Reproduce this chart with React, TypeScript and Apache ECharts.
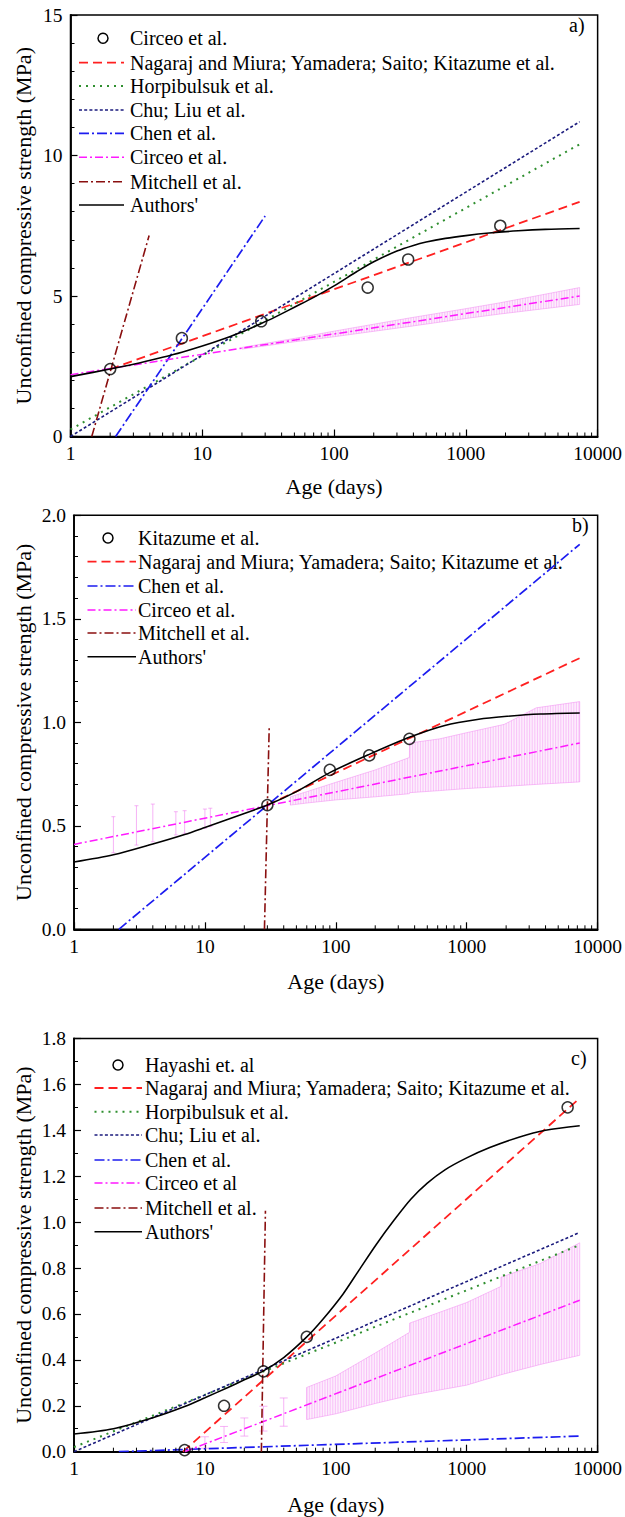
import React, { useEffect, useRef } from "react";
import * as echarts from "echarts";

const FONT = "Liberation Serif, Times New Roman, serif";

// ---------- shared axis data ----------
const xTickValues = [1, 10, 100, 1000, 10000];
const minorTickDays = [2, 3, 4, 5, 6, 7, 8, 9, 20, 30, 40, 50, 60, 70, 80, 90, 200, 300, 400, 500, 600, 700, 800, 900, 2000, 3000, 4000, 5000, 6000, 7000, 8000, 9000];
const yAxisTitle = "Unconfined compressive strength (MPa)";
const xAxisTitle = "Age (days)";

// ---------- panel a ----------
const aObsDays = [2, 7, 28, 180, 365, 1825];
const aObsUcs = [2.4, 3.5, 4.1, 5.3, 6.3, 7.5];
const aNagarajDays = [2, 7300];
const aNagarajUcs = [2.4, 8.35];
const aHorpDays = [1, 7300];
const aHorpUcs = [0.25, 10.4];
const aChuDays = [1, 7300];
const aChuUcs = [0.0, 11.2];
const aChenDays = [2.2, 30];
const aChenUcs = [0.0, 7.85];
const aCirceoDays = [1, 7300];
const aCirceoUcs = [2.2, 5.0];
const aMitchellDays = [1.45, 3.95];
const aMitchellUcs = [0.0, 7.15];
const aAuthorsDays = [1, 2, 3, 5, 7, 10, 15, 20, 28, 35, 50, 70, 100, 150, 200, 300, 400, 500, 700, 1000, 1500, 2500, 4000, 7300];
const aAuthorsUcs = [2.13, 2.4, 2.57, 2.82, 3.0, 3.22, 3.5, 3.72, 4.02, 4.23, 4.6, 4.95, 5.36, 5.88, 6.22, 6.6, 6.8, 6.92, 7.05, 7.15, 7.24, 7.32, 7.37, 7.4];
const aBandDays = [20, 50, 100, 365, 1000, 1825, 3650, 7300];
const aBandLow = [3.11, 3.37, 3.55, 3.91, 4.2, 4.36, 4.53, 4.7];
const aBandHigh = [3.17, 3.49, 3.75, 4.21, 4.55, 4.76, 5.03, 5.3];

// ---------- panel b ----------
const bObsDays = [30, 90, 180, 365];
const bObsUcs = [0.6, 0.77, 0.84, 0.92];
const bNagarajDays = [30, 7300];
const bNagarajUcs = [0.6, 1.31];
const bChenDays = [2.2, 7300];
const bChenUcs = [0.0, 1.86];
const bCirceoDays = [1, 7300];
const bCirceoUcs = [0.41, 0.9];
const bMitchellDays = [28.5, 31];
const bMitchellUcs = [0.0, 0.98];
const bAuthorsDays = [1, 2, 4, 7, 10, 20, 30, 50, 90, 180, 373, 680, 1236, 1936, 3650, 7300];
const bAuthorsUcs = [0.325, 0.36, 0.412, 0.458, 0.492, 0.56, 0.6, 0.665, 0.757, 0.845, 0.93, 0.985, 1.015, 1.028, 1.04, 1.045];
const bBarDays = [2, 3, 4, 6, 7, 10, 11];
const bBarLow = [0.37, 0.407, 0.423, 0.456, 0.464, 0.488, 0.496];
const bBarHigh = [0.544, 0.597, 0.605, 0.568, 0.573, 0.581, 0.585];
const bBandDays = [45, 60, 100, 200, 365, 366, 620, 1000, 1936, 3400, 7300];
const bBandLow = [0.6, 0.61, 0.625, 0.64, 0.655, 0.66, 0.67, 0.68, 0.69, 0.7, 0.712];
const bBandHigh = [0.64, 0.665, 0.71, 0.77, 0.83, 0.9, 0.92, 0.95, 0.99, 1.07, 1.1];

// ---------- panel c ----------
const cObsDays = [7, 14, 28, 60, 5900];
const cObsUcs = [0.007, 0.2, 0.35, 0.5, 1.5];
const cNagarajDays = [6.8, 7300];
const cNagarajUcs = [0.0, 1.54];
const cHorpDays = [1, 7300];
const cHorpUcs = [0.02, 0.9];
const cChuDays = [1, 7300];
const cChuUcs = [0.0, 0.955];
const cChenDays = [2.2, 7300];
const cChenUcs = [0.0, 0.068];
const cCirceoDays = [7, 7300];
const cCirceoUcs = [0.0, 0.66];
const cMitchellDays = [27, 29];
const cMitchellUcs = [0.0, 1.05];
const cAuthorsDays = [1, 2, 4, 7, 10, 15, 20, 28, 40, 60, 80, 113, 150, 205, 280, 374, 500, 682, 1000, 1500, 2500, 4000, 7300];
const cAuthorsUcs = [0.077, 0.1, 0.148, 0.197, 0.235, 0.28, 0.313, 0.352, 0.41, 0.5, 0.578, 0.685, 0.79, 0.905, 1.01, 1.1, 1.17, 1.228, 1.28, 1.325, 1.37, 1.4, 1.42];
const cBarDays = [10, 14, 20, 28, 40];
const cBarLow = [0.015, 0.04, 0.068, 0.09, 0.111];
const cBarHigh = [0.065, 0.11, 0.147, 0.198, 0.234];
const cBandDays = [60, 100, 200, 365, 366, 1000, 1825, 1826, 3650, 7300];
const cBandLow = [0.14, 0.165, 0.21, 0.245, 0.245, 0.29, 0.335, 0.335, 0.38, 0.42];
const cBandHigh = [0.28, 0.33, 0.43, 0.52, 0.56, 0.65, 0.72, 0.76, 0.82, 0.91];

// ---------- styles ----------
const STY: Record<string, { color: string; width: number; dash: number[] | null }> = {
  nagaraj: { color: "#ff2020", width: 1.8, dash: [9, 5] },
  horp: { color: "#2f8f2f", width: 2, dash: [2, 5] },
  chu: { color: "#1b1b7d", width: 1.6, dash: [3, 2.2] },
  chen: { color: "#1c1cf0", width: 1.7, dash: [10, 3, 2, 3] },
  circeo: { color: "#ff1aff", width: 1.5, dash: [8, 3, 2, 3] },
  mitchell: { color: "#8a0f0f", width: 1.6, dash: [9, 3, 2, 3] },
  authors: { color: "#000000", width: 1.6, dash: null },
};
const PINK = "rgba(240, 130, 240, 0.6)";

const zip = (xs: number[], ys: number[]) => xs.map((x, i) => [x, ys[i]]);

type Panel = {
  grid: { left: number; top: number; width: number; height: number };
  yMax: number;
  yInterval: number;
  yMinorSplit: number;
  yDecimals: number;
  nameGap: number;
  letter: string;
  letterPos: [number, number];
  legend: { x1: number; x2: number; tx: number; cx: number; ys: number[] };
  obs: { days: number[]; ucs: number[]; label: string };
  lines: { key: string; days: number[]; ucs: number[]; label: string }[];
  bars?: { days: number[]; low: number[]; high: number[]; cap: number };
  band: { days: number[]; low: number[]; high: number[] };
};

const panels: Panel[] = [
  {
    grid: { left: 70.5, top: 15, width: 530, height: 421.5 },
    yMax: 15, yInterval: 5, yMinorSplit: 5, yDecimals: 0, nameGap: 39,
    letter: "a)", letterPos: [569, 25],
    legend: { x1: 79, x2: 124, tx: 130, cx: 103, ys: [38.3, 62.7, 86, 110, 133.3, 157.3, 181.7, 205] },
    obs: { days: aObsDays, ucs: aObsUcs, label: "Circeo et al." },
    lines: [
      { key: "nagaraj", days: aNagarajDays, ucs: aNagarajUcs, label: "Nagaraj and Miura; Yamadera; Saito; Kitazume et al." },
      { key: "horp", days: aHorpDays, ucs: aHorpUcs, label: "Horpibulsuk et al." },
      { key: "chu", days: aChuDays, ucs: aChuUcs, label: "Chu; Liu et al." },
      { key: "chen", days: aChenDays, ucs: aChenUcs, label: "Chen et al." },
      { key: "circeo", days: aCirceoDays, ucs: aCirceoUcs, label: "Circeo et al." },
      { key: "mitchell", days: aMitchellDays, ucs: aMitchellUcs, label: "Mitchell et al." },
      { key: "authors", days: aAuthorsDays, ucs: aAuthorsUcs, label: "Authors'" },
    ],
    band: { days: aBandDays, low: aBandLow, high: aBandHigh },
  },
  {
    grid: { left: 74, top: 515.3, width: 526.5, height: 414 },
    yMax: 2, yInterval: 0.5, yMinorSplit: 5, yDecimals: 1, nameGap: 41,
    letter: "b)", letterPos: [572, 525],
    legend: { x1: 87.5, x2: 136, tx: 138, cx: 108, ys: [538, 561.7, 586, 610, 633, 656.7] },
    obs: { days: bObsDays, ucs: bObsUcs, label: "Kitazume et al." },
    lines: [
      { key: "nagaraj", days: bNagarajDays, ucs: bNagarajUcs, label: "Nagaraj and Miura; Yamadera; Saito; Kitazume et al." },
      { key: "chen", days: bChenDays, ucs: bChenUcs, label: "Chen et al." },
      { key: "circeo", days: bCirceoDays, ucs: bCirceoUcs, label: "Circeo et al." },
      { key: "mitchell", days: bMitchellDays, ucs: bMitchellUcs, label: "Mitchell et al." },
      { key: "authors", days: bAuthorsDays, ucs: bAuthorsUcs, label: "Authors'" },
    ],
    bars: { days: bBarDays, low: bBarLow, high: bBarHigh, cap: 2 },
    band: { days: bBandDays, low: bBandLow, high: bBandHigh },
  },
  {
    grid: { left: 74, top: 1038.5, width: 526.5, height: 413.2 },
    yMax: 1.8, yInterval: 0.2, yMinorSplit: 2, yDecimals: 1, nameGap: 42,
    letter: "c)", letterPos: [571, 1058],
    legend: { x1: 94.5, x2: 142, tx: 145, cx: 118, ys: [1065, 1088, 1111.7, 1135, 1160, 1183, 1208, 1231.7] },
    obs: { days: cObsDays, ucs: cObsUcs, label: "Hayashi et. al" },
    lines: [
      { key: "nagaraj", days: cNagarajDays, ucs: cNagarajUcs, label: "Nagaraj and Miura; Yamadera; Saito; Kitazume et al." },
      { key: "horp", days: cHorpDays, ucs: cHorpUcs, label: "Horpibulsuk et al." },
      { key: "chu", days: cChuDays, ucs: cChuUcs, label: "Chu; Liu et al." },
      { key: "chen", days: cChenDays, ucs: cChenUcs, label: "Chen et al." },
      { key: "circeo", days: cCirceoDays, ucs: cCirceoUcs, label: "Circeo et al" },
      { key: "mitchell", days: cMitchellDays, ucs: cMitchellUcs, label: "Mitchell et al." },
      { key: "authors", days: cAuthorsDays, ucs: cAuthorsUcs, label: "Authors'" },
    ],
    bars: { days: cBarDays, low: cBarLow, high: cBarHigh, cap: 4 },
    band: { days: cBandDays, low: cBandLow, high: cBandHigh },
  },
];

function buildOption() {
  const grids: any[] = [];
  const xAxes: any[] = [];
  const yAxes: any[] = [];
  const series: any[] = [];
  const graphics: any[] = [];

  panels.forEach((p, i) => {
    grids.push({ ...p.grid, show: true, borderColor: "#000", borderWidth: 1.5, backgroundColor: "transparent", containLabel: false });
    xAxes.push({
      type: "log", logBase: 10, min: xTickValues[0], max: xTickValues[xTickValues.length - 1], gridIndex: i,
      name: xAxisTitle, nameLocation: "middle", nameGap: p.nameGap,
      nameTextStyle: { fontFamily: FONT, fontSize: 22, fontWeight: "normal", color: "#000" },
      axisLine: { show: true, lineStyle: { color: "#000", width: 1.8 } },
      axisTick: { show: true, inside: true, length: 7, lineStyle: { color: "#000", width: 1.2 } },
      axisLabel: { show: true, margin: 7, fontFamily: FONT, fontSize: 19.5, color: "#000", formatter: (v: number) => String(Math.round(v)) },
      splitLine: { show: false },
    });
    yAxes.push({
      type: "value", min: 0, max: p.yMax, interval: p.yInterval, gridIndex: i,
      axisLine: { show: true, lineStyle: { color: "#000", width: 1.8 } },
      axisTick: { show: true, inside: true, length: 7, lineStyle: { color: "#000", width: 1.2 } },
      minorTick: { show: true, splitNumber: p.yMinorSplit, length: 4, lineStyle: { color: "#000", width: 1 } },
      axisLabel: { show: true, margin: 8, fontFamily: FONT, fontSize: 19.5, color: "#000", formatter: (v: number) => v.toFixed(p.yDecimals) },
      splitLine: { show: false },
    });

    // minor x ticks at 2..9 of each decade
    series.push({
      type: "custom", xAxisIndex: i, yAxisIndex: i, silent: true, z: 5,
      data: minorTickDays.map((d) => [d, 0]),
      encode: { x: 0, y: 1 },
      renderItem: (_params: any, api: any) => {
        const c = api.coord([api.value(0), api.value(1)]);
        return { type: "line", shape: { x1: c[0], y1: c[1], x2: c[0], y2: c[1] - 4 }, style: { stroke: "#000", lineWidth: 1 } };
      },
    });

    // Circeo uncertainty band, drawn as a hatched polygon (dense error bars)
    const band = p.band;
    series.push({
      type: "custom", xAxisIndex: i, yAxisIndex: i, silent: true, z: 1,
      data: [[band.days[0], band.low[0]]],
      encode: { x: 0, y: 1 },
      renderItem: (_params: any, api: any) => {
        const up = band.days.map((d, k) => api.coord([d, band.high[k]]));
        const lo = band.days.map((d, k) => api.coord([d, band.low[k]]));
        const pts = up.concat(lo.slice().reverse());
        const children: any[] = [
          { type: "polygon", shape: { points: pts }, style: { fill: "rgba(250, 205, 250, 0.35)", stroke: PINK, lineWidth: 0.8 } },
        ];
        // hatch: vertical strokes across the polygon every ~2.6px
        const edgeAt = (edge: number[][], x: number) => {
          for (let k = 0; k < edge.length - 1; k++) {
            const a = edge[k], b = edge[k + 1];
            if (x >= a[0] && x <= b[0]) {
              const t = b[0] === a[0] ? 0 : (x - a[0]) / (b[0] - a[0]);
              return a[1] + t * (b[1] - a[1]);
            }
          }
          return edge[edge.length - 1][1];
        };
        for (let x = up[0][0]; x <= up[up.length - 1][0]; x += 2.6) {
          children.push({ type: "line", shape: { x1: x, y1: edgeAt(up, x), x2: x, y2: edgeAt(lo, x) }, style: { stroke: PINK, lineWidth: 0.7 } });
        }
        return { type: "group", children };
      },
    });

    // sparse error bars
    if (p.bars) {
      const b = p.bars;
      series.push({
        type: "custom", xAxisIndex: i, yAxisIndex: i, silent: true, z: 1,
        data: b.days.map((d, k) => [d, b.low[k], b.high[k]]),
        encode: { x: 0, y: [1, 2] },
        renderItem: (_params: any, api: any) => {
          const lo = api.coord([api.value(0), api.value(1)]);
          const hi = api.coord([api.value(0), api.value(2)]);
          const st = { stroke: PINK, lineWidth: 1 };
          return {
            type: "group",
            children: [
              { type: "line", shape: { x1: lo[0], y1: lo[1], x2: hi[0], y2: hi[1] }, style: st },
              { type: "line", shape: { x1: lo[0] - b.cap, y1: lo[1], x2: lo[0] + b.cap, y2: lo[1] }, style: st },
              { type: "line", shape: { x1: hi[0] - b.cap, y1: hi[1], x2: hi[0] + b.cap, y2: hi[1] }, style: st },
            ],
          };
        },
      });
    }

    // model lines
    p.lines.forEach((ln) => {
      const s = STY[ln.key];
      series.push({
        type: "line", name: `${p.letter} ${ln.label} (${ln.key})`, xAxisIndex: i, yAxisIndex: i,
        data: zip(ln.days, ln.ucs), showSymbol: false, symbol: "none",
        smooth: ln.key === "authors" ? 0.3 : false,
        clip: true, z: ln.key === "authors" ? 4 : 3,
        lineStyle: { color: s.color, width: s.width, type: s.dash ? s.dash : "solid" },
      });
    });

    // observations
    series.push({
      type: "scatter", name: `${p.letter} ${p.obs.label} (data)`, xAxisIndex: i, yAxisIndex: i,
      data: zip(p.obs.days, p.obs.ucs), symbol: "circle", symbolSize: 11, z: 6,
      itemStyle: { color: "transparent", borderColor: "#000", borderWidth: 1.5 },
    });

    // y title
    graphics.push({
      type: "text", x: 23, y: p.grid.top + p.grid.height / 2, rotation: Math.PI / 2,
      style: { text: yAxisTitle, fontFamily: FONT, fontSize: 22, fill: "#000", align: "center", verticalAlign: "middle" },
    });
    // panel letter
    graphics.push({
      type: "text", x: p.letterPos[0], y: p.letterPos[1],
      style: { text: p.letter, fontFamily: FONT, fontSize: 20, fill: "#000", align: "left", verticalAlign: "middle" },
    });
    // legend
    const L = p.legend;
    graphics.push({ type: "circle", shape: { cx: L.cx, cy: L.ys[0], r: 5 }, style: { fill: "none", stroke: "#000", lineWidth: 1.5 } });
    graphics.push({ type: "text", x: L.tx, y: L.ys[0], style: { text: p.obs.label, fontFamily: FONT, fontSize: 20, fill: "#000", align: "left", verticalAlign: "middle" } });
    p.lines.forEach((ln, k) => {
      const s = STY[ln.key];
      const y = L.ys[k + 1];
      graphics.push({ type: "line", shape: { x1: L.x1, y1: y, x2: L.x2, y2: y }, style: { stroke: s.color, lineWidth: s.width, lineDash: s.dash } });
      graphics.push({ type: "text", x: L.tx, y, style: { text: ln.label, fontFamily: FONT, fontSize: 20, fill: "#000", align: "left", verticalAlign: "middle" } });
    });
  });

  return {
    animation: false,
    backgroundColor: "#fff",
    textStyle: { fontFamily: FONT },
    grid: grids,
    xAxis: xAxes,
    yAxis: yAxes,
    series,
    graphic: { elements: graphics },
  };
}

export default function App() {
  const ref = useRef<HTMLDivElement>(null);
  useEffect(() => {
    if (!ref.current) return;
    const chart = echarts.init(ref.current, undefined, { renderer: "svg" });
    chart.setOption(buildOption() as any);
    return () => chart.dispose();
  }, []);
  return <div ref={ref} style={{ position: "absolute", left: 0, top: 0, width: 625, height: 1517, background: "#fff" }} />;
}
